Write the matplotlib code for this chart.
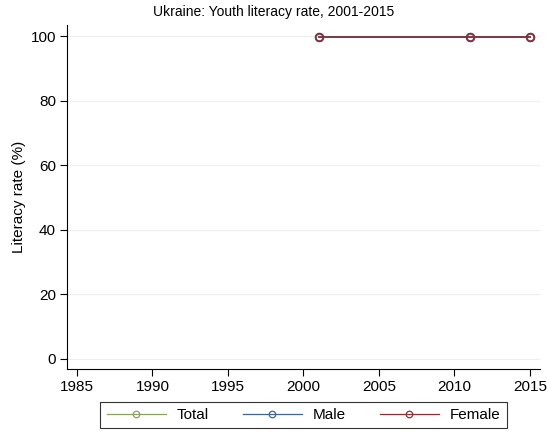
import matplotlib
matplotlib.use("Agg")
import matplotlib.pyplot as plt

years = [2001, 2011, 2015]
total = [99.8, 99.8, 99.8]
male = [99.8, 99.8, 99.8]
female = [99.8, 99.8, 99.8]
yticks = [0, 20, 40, 60, 80, 100]
xticks = [1985, 1990, 1995, 2000, 2005, 2010, 2015]

plt.rcParams['font.family'] = ['Liberation Sans', 'DejaVu Sans']

fig = plt.figure(figsize=(5.47, 4.33), dpi=100)
ax = fig.add_axes([0.1225, 0.148, 0.865, 0.794])

c_total = '#8da15f'
c_male = '#3f6690'
c_female = '#8c2f39'
for vals, c, lab in [(total, c_total, 'Total'), (male, c_male, 'Male'), (female, c_female, 'Female')]:
    ax.plot(years, vals, color=c, lw=1.2, marker='o', ms=5.5, mfc='none', mec=c, mew=1.2, label=lab)

ax.set_xlim(1984.34, 2015.68)
ax.set_ylim(-3.1, 103.4)
ax.set_yticks(yticks)
ax.set_xticks(xticks)
ax.yaxis.grid(True, color='#eeeeee', lw=0.8)
ax.set_axisbelow(True)
for s in ['top', 'right']:
    ax.spines[s].set_visible(False)
ax.tick_params(labelsize=11, length=5, width=0.8, pad=3)
ax.set_ylabel('Literacy rate (%)', fontsize=11, labelpad=3)
fig.text(0.5, 1 - 12 / 433, 'Ukraine: Youth literacy rate, 2001-2015', fontsize=10,
         ha='center', va='center')

leg = ax.legend(loc='upper center', bbox_to_anchor=(0.5, -0.097), ncol=3, fontsize=11,
                frameon=True, fancybox=False, edgecolor='black', handlelength=3.9,
                handletextpad=0.7, columnspacing=2.2, borderpad=0.4, borderaxespad=0,
                markerscale=0.85)
leg.get_frame().set_linewidth(0.8)
for h in leg.get_lines():
    h.set_linewidth(0.9)
    h.set_markeredgewidth(0.9)

fig.savefig('out.png', dpi=100)
